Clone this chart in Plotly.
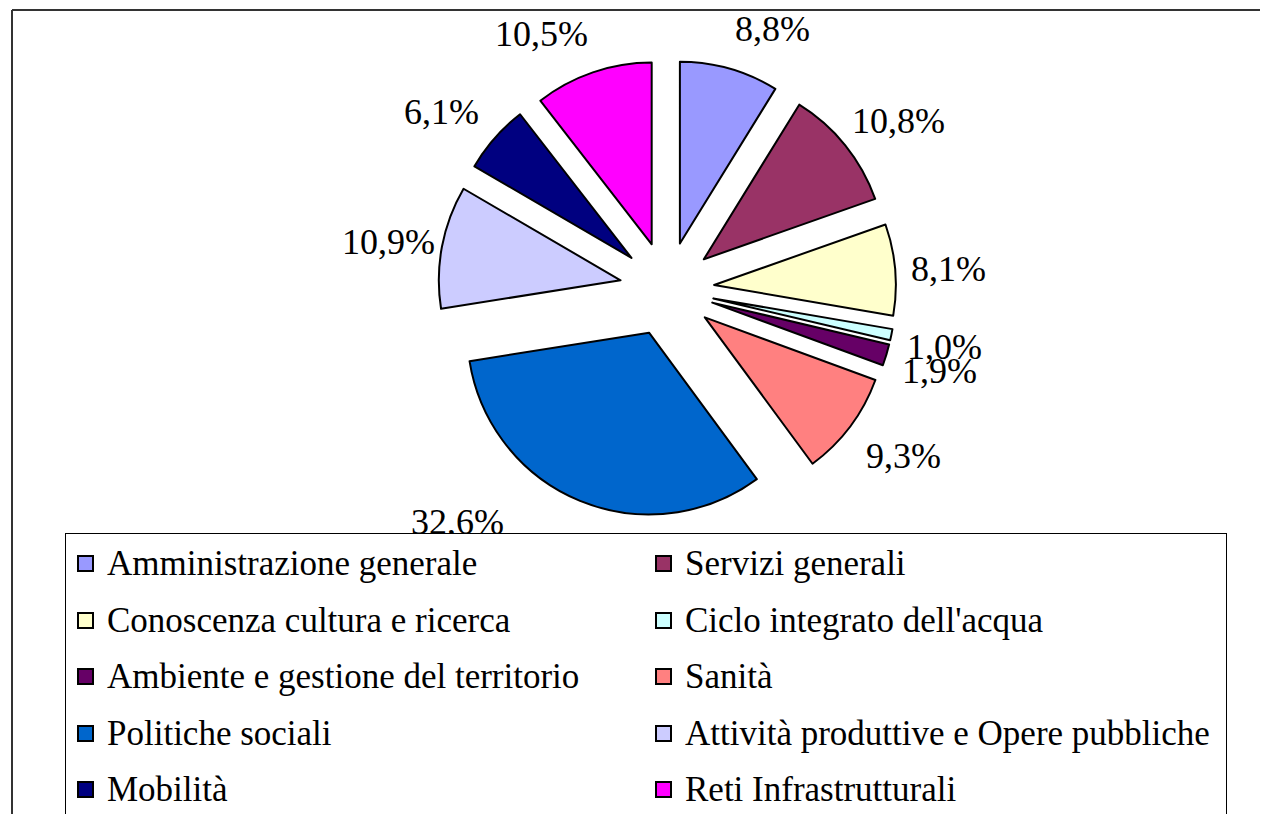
import numpy as np
import plotly.graph_objects as go

# ---------------- data ----------------
categories = [
    "Amministrazione generale",
    "Servizi generali",
    "Conoscenza cultura e ricerca",
    "Ciclo integrato dell'acqua",
    "Ambiente e gestione del territorio",
    "Sanità",
    "Politiche sociali",
    "Attività produttive e Opere pubbliche",
    "Mobilità",
    "Reti Infrastrutturali",
]
values = [8.8, 10.8, 8.1, 1.0, 1.9, 9.3, 32.6, 10.9, 6.1, 10.5]
colors = [
    "#9999FF", "#993366", "#FFFFCC", "#CCFFFF", "#660066",
    "#FF8080", "#0066CC", "#CCCCFF", "#000080", "#FF00FF",
]

# ---------------- layout constants ----------------
W, H = 1268, 814
OFF = 8                    # page body margin compensation (px)
CX, CY = 667, 289          # pie centre (page px)
R_OUT = 229                # radius incl. pull (px)
PULL = 0.26
R = R_OUT / (1 + PULL)
FONT = "Liberation Serif, Times New Roman, serif"
LABEL_SIZE = 36
LEG_SIZE = 35
# Excel "best fit" moved this one label sideways
label_nudge = {"Politiche sociali": (-70, -23)}


def px_to_paper(x, y):
    return (x - OFF) / W, 1 - (y - OFF) / H


dx0, dy0 = px_to_paper(CX - R_OUT, CY + R_OUT)
dx1, dy1 = px_to_paper(CX + R_OUT, CY - R_OUT)

fig = go.Figure(
    go.Pie(
        labels=categories,
        values=values,
        sort=False,
        direction="clockwise",
        rotation=0,
        pull=[PULL] * len(values),
        marker=dict(colors=colors, line=dict(color="black", width=2)),
        textinfo="none",
        hoverinfo="label+percent",
        showlegend=False,
        domain=dict(x=[dx0, dx1], y=[dy0, dy1]),
    )
)

annotations = []

# ---------------- percentage labels (computed from the values) ----------------
total = float(sum(values))
cum = 0.0
for name, v in zip(categories, values):
    theta = 2 * np.pi * (cum + v / 2) / total
    cum += v
    dx, dy = np.sin(theta), -np.cos(theta)
    pcx, pcy = CX + dx * R * PULL, CY + dy * R * PULL
    ax, ay = pcx + dx * R, pcy + dy * R
    lx = ax + 53 * np.clip(3 * dx, -1, 1)
    ly = ay + 44 * dy + 3
    nx, ny = label_nudge.get(name, (0, 0))
    xp, yp = px_to_paper(lx + nx, ly + ny)
    txt = f"{v:.1f}".replace(".", ",") + "%"
    annotations.append(dict(
        x=xp, y=yp, xref="paper", yref="paper", text=txt, showarrow=False,
        xanchor="center", yanchor="middle",
        font=dict(family=FONT, size=LABEL_SIZE, color="black"),
    ))

# ---------------- legend (box drawn over the labels) ----------------
LEG_L, LEG_T, LEG_R = 65, 533, 1225
bx, by = px_to_paper(LEG_L, LEG_T)
annotations.append(dict(
    x=bx, y=by, xref="paper", yref="paper", text=" ", showarrow=False,
    xanchor="left", yanchor="top", width=LEG_R - LEG_L, height=400,
    bgcolor="white", bordercolor="black", borderwidth=1, borderpad=0,
))

row_y = [563, 620, 676, 733, 789]
col_sq = [85, 663]
col_tx = [105, 683]
for i, (name, c) in enumerate(zip(categories, colors)):
    r, k = divmod(i, 2)
    sx, sy = px_to_paper(col_sq[k], row_y[r])
    annotations.append(dict(
        x=sx, y=sy, xref="paper", yref="paper", text=" ", showarrow=False,
        xanchor="center", yanchor="middle", width=13, height=13,
        bgcolor=c, bordercolor="black", borderwidth=2, borderpad=0,
    ))
    tx, ty = px_to_paper(col_tx[k], row_y[r])
    annotations.append(dict(
        x=tx, y=ty, xref="paper", yref="paper", text=name, showarrow=False,
        xanchor="left", yanchor="middle",
        font=dict(family=FONT, size=LEG_SIZE, color="black"),
    ))

# ---------------- outer frame ----------------
fx0, fy0 = px_to_paper(12, 10)
shapes = [
    dict(type="line", xref="paper", yref="paper", x0=fx0, y0=fy0, x1=1.0, y1=fy0,
         line=dict(color="#333333", width=2)),
    dict(type="line", xref="paper", yref="paper", x0=fx0, y0=fy0, x1=fx0, y1=0.0,
         line=dict(color="#333333", width=2)),
]

fig.update_layout(
    width=W, height=H,
    margin=dict(l=0, r=0, t=0, b=0, autoexpand=False),
    paper_bgcolor="white", plot_bgcolor="white",
    annotations=annotations, shapes=shapes,
    font=dict(family=FONT, color="black"),
)

fig.write_html("out.html")
